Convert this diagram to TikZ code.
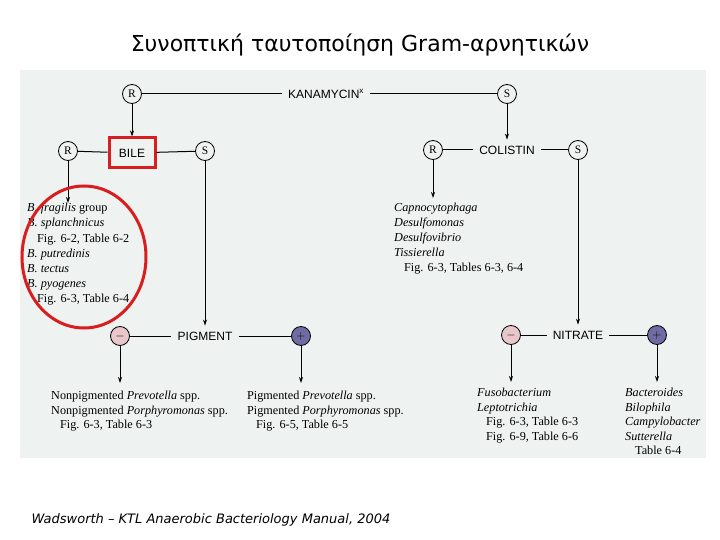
\documentclass[tikz,border=0pt]{standalone}
\usepackage{fontspec}
\setmainfont{Liberation Serif}
\newfontfamily\labelfont{Liberation Sans}
\newfontfamily\greekfont{DejaVu Sans}
\usetikzlibrary{arrows.meta}
\definecolor{panel}{HTML}{EEF3F1}
\definecolor{negfill}{HTML}{E8C6CA}
\definecolor{posfill}{HTML}{6E6CA2}
\definecolor{ringred}{HTML}{D81E1E}
\begin{document}
\begin{tikzpicture}[x=1pt,y=-1pt,
 sym/.style={circle, draw, line width=0.8pt, minimum size=19pt, inner sep=0pt, fill=panel, font=\fontsize{11.5}{11.5}\selectfont},
 minussym/.style={sym, fill=negfill},
 plussym/.style={sym, fill=posfill},
 testlabel/.style={font=\labelfont\fontsize{12}{12}\selectfont, inner sep=6pt},
 conn/.style={line width=1pt},
 arr/.style={line width=0.9pt, -{Stealth[length=6pt,width=4pt]}},
 txtlist/.style={align=left, anchor=north west, inner sep=0pt, font=\fontsize{12.2}{15.2}\selectfont},
 txtlistb/.style={txtlist, font=\fontsize{12.2}{14.5}\selectfont}
]
\useasboundingbox (0,0) rectangle (720,540);
\fill[panel] (20,70) rectangle (706,458);

\node[font=\greekfont\fontsize{22}{22}\selectfont] (title) at (360,45) {Συνοπτική ταυτοποίηση Gram-αρνητικών};
\node[anchor=west, font=\greekfont\itshape\fontsize{13}{13}\selectfont] (cite) at (28,520) {Wadsworth – KTL Anaerobic Bacteriology Manual, 2004};

% level 1
\node[sym] (r1) at (132,94) {R};
\node[testlabel] (kana) at (326,94) {KANAMYCIN\textsuperscript{x}};
\node[sym] (s1) at (507,94) {S};
\draw[conn] (r1) -- (kana) -- (s1);

% bile
\node[testlabel, draw=ringred, line width=3pt, minimum width=46pt, minimum height=30pt, inner sep=2pt] (bile) at (132,153) {BILE};
\node[sym] (r2) at (68,151) {R};
\node[sym] (s2) at (205,151) {S};
\draw[arr] (r1) -- (bile.north);
\draw[conn] (r2) -- (bile) -- (s2);

% colistin
\node[testlabel] (col) at (507,150) {COLISTIN};
\node[sym] (r3) at (433,150) {R};
\node[sym] (s3) at (578,150) {S};
\draw[arr] (s1) -- (col.north);
\draw[conn] (r3) -- (col) -- (s3);

% bile R result
\coordinate (r2end) at (68,203);
\draw[arr] (r2) -- (r2end);
\node[txtlist] (bilelist) at (27,203) {\textit{B. fragilis} group\\
\textit{B. splanchnicus}\\
\hspace*{10pt}Fig. 6-2, Table 6-2\\
\textit{B. putredinis}\\
\textit{B. tectus}\\
\textit{B. pyogenes}\\
\hspace*{10pt}Fig. 6-3, Table 6-4};
\draw[ringred, line width=3pt] (84,257) ellipse [x radius=62, y radius=71];

% colistin R result
\coordinate (r3end) at (433,198);
\draw[arr] (r3) -- (r3end);
\node[txtlist, font=\fontsize{12.2}{15}\selectfont] (collist) at (394,203) {\textit{Capnocytophaga}\\
\textit{Desulfomonas}\\
\textit{Desulfovibrio}\\
\textit{Tissierella}\\
\hspace*{10pt}Fig. 6-3, Tables 6-3, 6-4};

% pigment
\node[testlabel] (pig) at (205,336) {PIGMENT};
\node[minussym] (pneg) at (120,336) {$-$};
\node[plussym] (ppos) at (301,336) {$+$};
\draw[arr] (s2) -- (pig.north);
\draw[conn] (pneg) -- (pig) -- (ppos);
\coordinate (pnegend) at (120,383);
\coordinate (pposend) at (301,383);
\draw[arr] (pneg) -- (pnegend);
\draw[arr] (ppos) -- (pposend);
\node[txtlistb] (pneglist) at (51,391) {Nonpigmented \textit{Prevotella} spp.\\
Nonpigmented \textit{Porphyromonas} spp.\\
\hspace*{9pt}Fig. 6-3, Table 6-3};
\node[txtlistb] (pposlist) at (247,391) {Pigmented \textit{Prevotella} spp.\\
Pigmented \textit{Porphyromonas} spp.\\
\hspace*{9pt}Fig. 6-5, Table 6-5};

% nitrate
\node[testlabel] (nit) at (578,335) {NITRATE};
\node[minussym] (nneg) at (511,335) {$-$};
\node[plussym] (npos) at (657,335) {$+$};
\draw[arr] (s3) -- (nit.north);
\draw[conn] (nneg) -- (nit) -- (npos);
\coordinate (nnegend) at (511,382);
\coordinate (nposend) at (657,382);
\draw[arr] (nneg) -- (nnegend);
\draw[arr] (npos) -- (nposend);
\node[txtlistb] (nneglist) at (477,388) {\textit{Fusobacterium}\\
\textit{Leptotrichia}\\
\hspace*{9pt}Fig. 6-3, Table 6-3\\
\hspace*{9pt}Fig. 6-9, Table 6-6};
\node[txtlistb] (nposlist) at (625,388) {\textit{Bacteroides}\\
\textit{Bilophila}\\
\textit{Campylobacter}\\
\textit{Sutterella}\\
\hspace*{10pt}Table 6-4};
\end{tikzpicture}
\end{document}
